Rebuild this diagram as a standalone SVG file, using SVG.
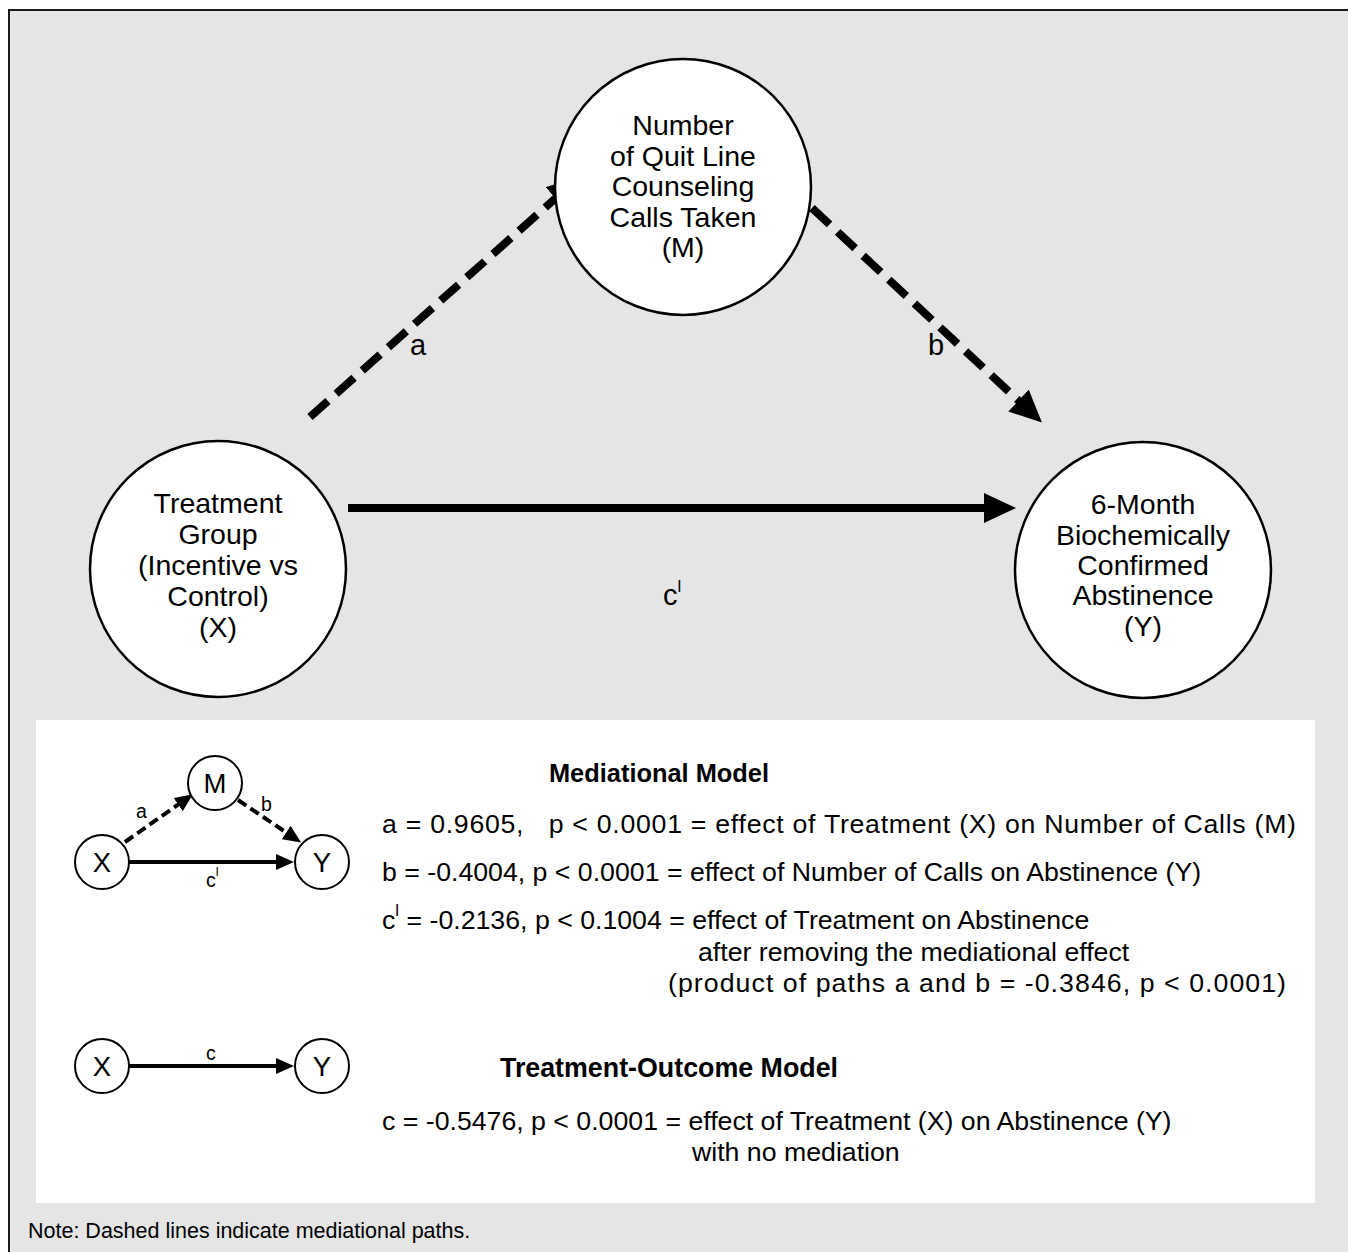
<svg xmlns="http://www.w3.org/2000/svg" width="1348" height="1252" viewBox="0 0 1348 1252">
<defs>
<style>
text{font-family:"Liberation Sans",Arial,sans-serif;fill:#000;white-space:pre}
.big{font-size:28.5px;text-anchor:middle}
.lbl{font-size:29px}
.sm{font-size:27.5px;text-anchor:middle}
.sl{font-size:19.5px}
.body{font-size:26.7px}
.bold{font-size:25.4px;font-weight:bold}
.node{fill:#fff;stroke:#000;stroke-width:2.5}
.snode{fill:#fff;stroke:#000;stroke-width:2}
.bigdash{stroke:#000;stroke-width:8;stroke-dasharray:24 11;fill:none}
.bigsolid{stroke:#000;stroke-width:8;fill:none}
.smdash{stroke:#000;stroke-width:4;stroke-dasharray:10 5;fill:none}
.smsolid{stroke:#000;stroke-width:4;fill:none}
</style>
<marker id="ah" markerUnits="userSpaceOnUse" viewBox="0 0 32 30" refX="2" refY="15" markerWidth="32" markerHeight="30" orient="auto">
<path d="M0,0 L32,15 L0,30 z" fill="#000"/>
</marker>
<marker id="ahs" markerUnits="userSpaceOnUse" viewBox="0 0 18 16" refX="1" refY="8" markerWidth="18" markerHeight="16" orient="auto">
<path d="M0,0 L18,8 L0,16 z" fill="#000"/>
</marker>
</defs>

<rect x="9" y="10" width="1345" height="1250" fill="#e5e5e5" stroke="#1a1a1a" stroke-width="2"/>
<rect x="36" y="720" width="1279" height="483" fill="#fff"/>

<g id="connectors">
<line class="bigdash" x1="310" y1="417" x2="557" y2="197" marker-end="url(#ah)"/>
<line class="bigdash" x1="812" y1="208" x2="1020" y2="402" marker-end="url(#ah)"/>
<line class="bigsolid" x1="348" y1="508" x2="986" y2="508" marker-end="url(#ah)"/>
<line class="smdash" x1="125" y1="842" x2="179" y2="804" marker-end="url(#ahs)"/>
<line class="smdash" x1="238" y1="800" x2="287" y2="833" marker-end="url(#ahs)"/>
<line class="smsolid" x1="129" y1="862" x2="277" y2="862" marker-end="url(#ahs)"/>
<line class="smsolid" x1="129" y1="1066" x2="277" y2="1066" marker-end="url(#ahs)"/>
</g>

<g id="node-M">
<circle class="node" cx="683" cy="187" r="128"/>
<text class="big" x="683" y="135">Number</text>
<text class="big" x="683" y="165.5">of Quit Line</text>
<text class="big" x="683" y="196">Counseling</text>
<text class="big" x="683" y="226.5">Calls Taken</text>
<text class="big" x="683" y="257">(M)</text>
</g>

<g id="node-X">
<circle class="node" cx="218" cy="569" r="128"/>
<text class="big" x="218" y="513">Treatment</text>
<text class="big" x="218" y="544">Group</text>
<text class="big" x="218" y="575">(Incentive vs</text>
<text class="big" x="218" y="606">Control)</text>
<text class="big" x="218" y="637">(X)</text>
</g>

<g id="node-Y">
<circle class="node" cx="1143" cy="570" r="128"/>
<text class="big" x="1143" y="514">6-Month</text>
<text class="big" x="1143" y="545">Biochemically</text>
<text class="big" x="1143" y="575">Confirmed</text>
<text class="big" x="1143" y="605">Abstinence</text>
<text class="big" x="1143" y="636">(Y)</text>
</g>

<g id="labels">
<text class="lbl" x="410" y="355">a</text>
<text class="lbl" x="928" y="355">b</text>
<text class="lbl" x="663" y="605">c<tspan font-size="17" dy="-13">l</tspan></text>
</g>

<g id="legend-mediational">
<circle class="snode" cx="102" cy="862" r="27"/>
<text class="sm" x="102" y="872">X</text>
<circle class="snode" cx="215" cy="783" r="27"/>
<text class="sm" x="215" y="793">M</text>
<circle class="snode" cx="322" cy="862" r="27"/>
<text class="sm" x="322" y="872">Y</text>
<text class="sl" x="136" y="818">a</text>
<text class="sl" x="261" y="811">b</text>
<text class="sl" x="206" y="887">c<tspan font-size="13" dy="-11">l</tspan></text>
</g>

<g id="legend-outcome">
<circle class="snode" cx="102" cy="1066" r="27"/>
<text class="sm" x="102" y="1076">X</text>
<circle class="snode" cx="322" cy="1066" r="27"/>
<text class="sm" x="322" y="1076">Y</text>
<text class="sl" x="206" y="1060">c</text>
</g>

<g id="legend-text">
<text class="bold" x="659" y="782" text-anchor="middle">Mediational Model</text>
<text class="body" x="382" y="833" textLength="914" lengthAdjust="spacing">a = 0.9605,   p &lt; 0.0001 = effect of Treatment (X) on Number of Calls (M)</text>
<text class="body" x="382" y="881">b = -0.4004, p &lt; 0.0001 = effect of Number of Calls on Abstinence (Y)</text>
<text class="body" x="382" y="929">c<tspan font-size="17" dy="-13">l</tspan><tspan dy="13"> = -0.2136, p &lt; 0.1004 = effect of Treatment on Abstinence</tspan></text>
<text class="body" x="698" y="961">after removing the mediational effect</text>
<text class="body" x="668" y="992" textLength="618" lengthAdjust="spacing">(product of paths a and b = -0.3846, p &lt; 0.0001)</text>
<text class="bold" x="669" y="1077" text-anchor="middle" style="font-size:26.8px">Treatment-Outcome Model</text>
<text class="body" x="382" y="1130">c = -0.5476, p &lt; 0.0001 = effect of Treatment (X) on Abstinence (Y)</text>
<text class="body" x="692" y="1161">with no mediation</text>
</g>

<text x="28" y="1238" style="font-size:21.5px">Note: Dashed lines indicate mediational paths.</text>
</svg>
